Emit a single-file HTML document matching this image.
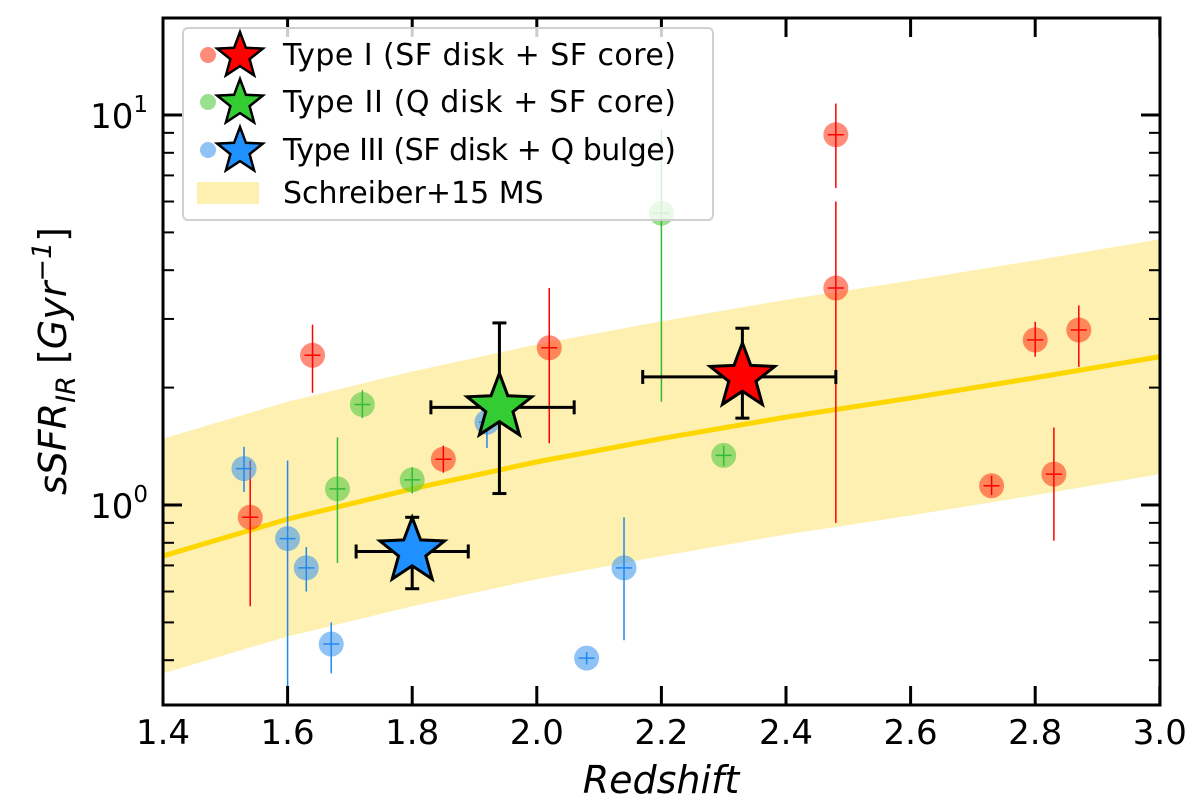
<!DOCTYPE html>
<html><head><meta charset="utf-8"><style>
body{margin:0;background:#fff;font-family:"Liberation Sans",sans-serif}
svg text{font-family:"DejaVu Sans","Liberation Sans",sans-serif}
</style></head><body>
<svg id="chart" width="1200" height="803" xmlns="http://www.w3.org/2000/svg">
<defs><clipPath id="clip"><rect x="163" y="18" width="997" height="687"/></clipPath></defs>
<g id="band" clip-path="url(#clip)"></g>
<g id="pts" clip-path="url(#clip)"></g>
<g id="stars"></g>
<g id="axes"></g>
<g id="legend">
 <rect x="183" y="28" width="530" height="192" rx="5" fill="#fff" fill-opacity="0.8" stroke="#d0d0d0" stroke-width="2"/>
</g>
<text x="661" y="793" text-anchor="middle" font-size="38" font-style="italic">Redshift</text>
<text transform="translate(66,361) rotate(-90)" text-anchor="middle" font-size="38" font-style="italic">sSFR<tspan font-size="27" dy="9">IR</tspan><tspan dy="-9" font-style="normal"> [</tspan>Gyr<tspan font-size="27" dy="-15">−1</tspan><tspan dy="15" font-style="normal">]</tspan></text>
</svg>
<script>
const msZ=[1.4,1.6,1.8,2.0,2.2,2.4,2.6,2.8,3.0];
const msV=[0.74,0.92,1.10,1.29,1.48,1.68,1.88,2.12,2.40];
const t1Z=[1.54,1.64,1.85,2.02,2.48,2.48,2.73,2.80,2.87,2.83];
const t1V=[0.93,2.42,1.31,2.53,8.9,3.6,1.12,2.65,2.81,1.20];
const t1Hi=[1.30,2.9,1.42,3.6,10.7,6.0,1.19,2.95,3.25,1.58];
const t1Lo=[0.55,1.94,1.21,1.44,6.5,0.9,1.06,2.4,2.26,0.81];
const t2Z=[2.20,1.72,1.68,1.80,2.30];
const t2V=[5.6,1.81,1.10,1.16,1.34];
const t2Hi=[9.2,1.97,1.49,1.25,1.42];
const t2Lo=[1.84,1.67,0.71,1.07,1.26];
const t3Z=[1.53,1.60,1.63,1.67,2.08,2.14,1.92];
const t3V=[1.24,0.82,0.69,0.44,0.405,0.69,1.63];
const t3Hi=[1.41,1.30,0.78,0.50,0.42,0.93,1.75];
const t3Lo=[1.08,0.30,0.60,0.37,0.39,0.45,1.40];
const starZ=[2.33,1.94,1.80];
const starV=[2.13,1.78,0.76];
const starVHi=[2.84,2.93,0.93];
const starVLo=[1.67,1.07,0.61];
const starZLo=[2.17,1.83,1.71];
const starZHi=[2.48,2.06,1.89];
const starCol=['#ff0000','#33cc33','#1e90ff'];
const xTicks=[1.4,1.6,1.8,2.0,2.2,2.4,2.6,2.8,3.0];
const NS='http://www.w3.org/2000/svg';
const X=z=>163+(z-1.4)*623;
const Y=v=>505-Math.log10(v)*390;
function mk(tag,a,p){const e=document.createElementNS(NS,tag);for(const k in a)e.setAttribute(k,a[k]);p.appendChild(e);return e;}
const band=document.getElementById('band');
let up=msZ.map((z,i)=>X(z)+','+Y(msV[i]*2)), dn=msZ.map((z,i)=>X(z)+','+Y(msV[i]/2)).reverse();
let b=mk('polygon',{points:up.concat(dn).join(' '),fill:'#fdf0b0'},band);


let l=mk('polyline',{points:msZ.map((z,i)=>X(z)+','+Y(msV[i])).join(' '),fill:'none',stroke:'#ffd700','stroke-width':5},band);


const pts=document.getElementById('pts');
function series(Z,V,H,L,fill,line,name){
 Z.forEach((z,i)=>{
  const g=mk('g',{},pts);
  
  
  mk('circle',{cx:X(z),cy:Y(V[i]),r:12.5,fill:fill,'fill-opacity':0.6},g);
  mk('line',{x1:X(z),x2:X(z),y1:Y(H[i]),y2:Y(L[i]),stroke:line,'stroke-width':1.5},g);
  mk('line',{x1:X(z)-8,x2:X(z)+8,y1:Y(V[i]),y2:Y(V[i]),stroke:line,'stroke-width':1.5},g);
 });
}
series(t1Z,t1V,t1Hi,t1Lo,'#ff4020','#ff0000','type1');
series(t2Z,t2V,t2Hi,t2Lo,'#55cc44','#33bb33','type2');
series(t3Z,t3V,t3Hi,t3Lo,'#4499ee','#2288ee','type3');
function starPts(cx,cy,R){let r=R*0.42,p=[];for(let k=0;k<10;k++){const a=-Math.PI/2+k*Math.PI/5,rr=k%2?r:R;p.push((cx+rr*Math.cos(a)).toFixed(1)+','+(cy+rr*Math.sin(a)).toFixed(1));}return p.join(' ');}
const st=document.getElementById('stars');
starZ.forEach((z,i)=>{
 const g=mk('g',{stroke:'#000','stroke-width':3},st);
 
 
 const x=X(z),y=Y(starV[i]),y1=Y(starVHi[i]),y2=Y(starVLo[i]),x1=X(starZLo[i]),x2=X(starZHi[i]);
 mk('line',{x1:x,x2:x,y1:y1,y2:y2},g);mk('line',{x1:x-7,x2:x+7,y1:y1,y2:y1},g);mk('line',{x1:x-7,x2:x+7,y1:y2,y2:y2},g);
 mk('line',{x1:x1,x2:x2,y1:y,y2:y},g);mk('line',{x1:x1,x2:x1,y1:y-7,y2:y+7},g);mk('line',{x1:x2,x2:x2,y1:y-7,y2:y+7},g);
 mk('polygon',{points:starPts(x,y,34),fill:starCol[i],'stroke-linejoin':'miter'},g);
});
const ax=document.getElementById('axes');
const fr=mk('rect',{x:163,y:18,width:997,height:687,fill:'none',stroke:'#000','stroke-width':3},ax);


xTicks.forEach(t=>{
 mk('line',{x1:X(t),x2:X(t),y1:705,y2:686,stroke:'#000','stroke-width':3},ax);
 mk('line',{x1:X(t),x2:X(t),y1:18,y2:37,stroke:'#000','stroke-width':3},ax);
 const tx=mk('text',{x:X(t),y:744,'text-anchor':'middle','font-size':34},ax);tx.textContent=t.toFixed(1);
 
 
});
for(let d=-1;d<=1;d++)for(let m=1;m<10;m++){const v=m*Math.pow(10,d),y=Y(v);if(y<18||y>705)continue;
 const len=m==1?19:11;
 mk('line',{x1:163,x2:163+len,y1:y,y2:y,stroke:'#000','stroke-width':m==1?3:2},ax);
 mk('line',{x1:1160,x2:1160-len,y1:y,y2:y,stroke:'#000','stroke-width':m==1?3:2},ax);
 if(m==1){const tx=mk('text',{x:148,y:y+13,'text-anchor':'end','font-size':34},ax);
  tx.innerHTML='10<tspan font-size="23" dy="-16">'+d+'</tspan>';
  
  }
}
const lg=document.getElementById('legend');
const labels=['Type I (SF disk + SF core)','Type II (Q disk + SF core)','Type III (SF disk + Q bulge)'];
const lc=['#ff4020','#55cc44','#4499ee'];
[55,102,150].forEach((y,i)=>{
 const g=mk('g',{},lg);
 
 
 mk('circle',{cx:208,cy:y,r:8,fill:lc[i],'fill-opacity':0.6},g);
 mk('polygon',{points:starPts(240,y+1,24),fill:starCol[i],stroke:'#000','stroke-width':2.5},g);
 const t=mk('text',{x:283,y:y+10,'font-size':30,textLength:393},g);t.textContent=labels[i];
});
const g4=mk('g',{},lg);


mk('rect',{x:197,y:182,width:62,height:22,fill:'#fdf0b0'},g4);
const t4=mk('text',{x:283,y:203,'font-size':30},g4);t4.textContent='Schreiber+15 MS';
</script>
</body></html>
